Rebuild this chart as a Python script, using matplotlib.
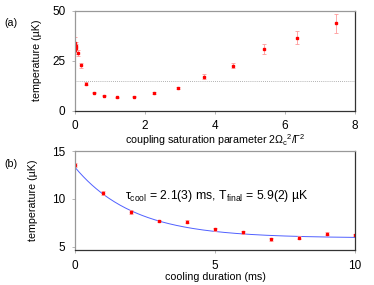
import numpy as np
import matplotlib
matplotlib.use("Agg")
import matplotlib.pyplot as plt

plt.rcParams['font.family'] = ['Liberation Sans', 'DejaVu Sans']
plt.rcParams['mathtext.fontset'] = 'custom'
plt.rcParams['mathtext.rm'] = 'Liberation Sans'
plt.rcParams['mathtext.it'] = 'Liberation Sans'
plt.rcParams['mathtext.bf'] = 'Liberation Sans'

# (a) temperature vs coupling saturation parameter
sat_param = [0.0, 0.005, 0.01, 0.02, 0.03, 0.086, 0.17, 0.31, 0.53, 0.83, 1.19,
             1.68, 2.26, 2.94, 3.69, 4.52, 5.40, 6.34, 7.45]
temp_a = [30.6, 33.8, 32.0, 31.2, 32.6, 28.8, 22.7, 13.5, 9.0, 7.4, 6.7,
          7.0, 8.7, 11.2, 16.9, 22.4, 30.9, 36.5, 43.8]
err_a = [2.0, 3.0, 2.5, 2.0, 2.0, 1.5, 1.3, 0.8, 0.4, 0.3, 0.3,
         0.3, 0.4, 0.5, 1.2, 1.3, 2.6, 3.2, 4.7]
doppler_limit = 15.0

# (b) temperature vs cooling duration
duration = [0, 1, 2, 3, 4, 5, 6, 7, 8, 9, 10]
temp_b = [13.5, 10.6, 8.6, 7.68, 7.6, 6.8, 6.5, 5.77, 5.94, 6.36, 6.22]
err_b = [0.2, 0.25, 0.2, 0.15, 0.15, 0.15, 0.15, 0.15, 0.15, 0.15, 0.15]

# exponential fit parameters
tau_cool = 2.1
T_final = 5.9
T_amp = 7.4

fs = 7.7
tfs = 8.5
fig = plt.figure(figsize=(3.74, 2.85), dpi=100)
axa = fig.add_axes([0.2005, 0.612, 0.749, 0.350])
axb = fig.add_axes([0.2005, 0.123, 0.749, 0.347])

for ax in (axa, axb):
    ax.spines['top'].set_color('#999999')
    ax.spines['left'].set_color('#999999')
    ax.spines['right'].set_color('#333333')
    ax.spines['bottom'].set_color('#333333')
    for s in ax.spines.values():
        s.set_linewidth(0.9)
    ax.tick_params(labelsize=tfs, length=2, width=0.5, color='#999999', pad=5)

axa.axhline(doppler_limit, color='#999999', lw=0.6, ls=(0, (1, 1.5)))
axa.errorbar(sat_param, temp_a, yerr=err_a, fmt='s', color='red', ms=1.6,
             ecolor='#ff9a9a', elinewidth=0.6, capsize=1.3, capthick=0.6)
axa.set_xlim(0, 8)
axa.set_ylim(0, 50)
axa.set_xticks([0, 2, 4, 6, 8])
axa.set_yticks([0, 25, 50])
axa.set_xlabel(r'coupling saturation parameter $2\Omega_{\rm c}{}^{2}/\Gamma^{2}$', fontsize=fs, labelpad=0)
axa.set_ylabel('temperature (µK)', fontsize=fs, labelpad=7)

t = np.linspace(0, 10, 200)
axb.plot(t, T_final + T_amp * np.exp(-t / tau_cool), color='#5060ff', lw=0.7)
axb.errorbar(duration, temp_b, yerr=err_b, fmt='s', color='red', ms=1.6,
             ecolor='#ff9a9a', elinewidth=0.6, capsize=1.3, capthick=0.6)
axb.set_xlim(0, 10)
axb.set_ylim(4.65, 15)
axb.set_xticks([0, 5, 10])
axb.set_yticks([5, 10, 15])
axb.set_xlabel('cooling duration (ms)', fontsize=fs, labelpad=0.5)
axb.set_ylabel('temperature (µK)', fontsize=fs, labelpad=10)
axb.text(1.8, 10.3, r'$\tau_{\rm cool}$ = 2.1(3) ms, $\mathrm{T}_{\rm final}$ = 5.9(2) µK',
         fontsize=8.8, va='center', ha='left')

fig.text(0.012, 0.91, '(a)', fontsize=fs)
fig.text(0.012, 0.415, '(b)', fontsize=fs)

fig.savefig('out.png', dpi=100)
